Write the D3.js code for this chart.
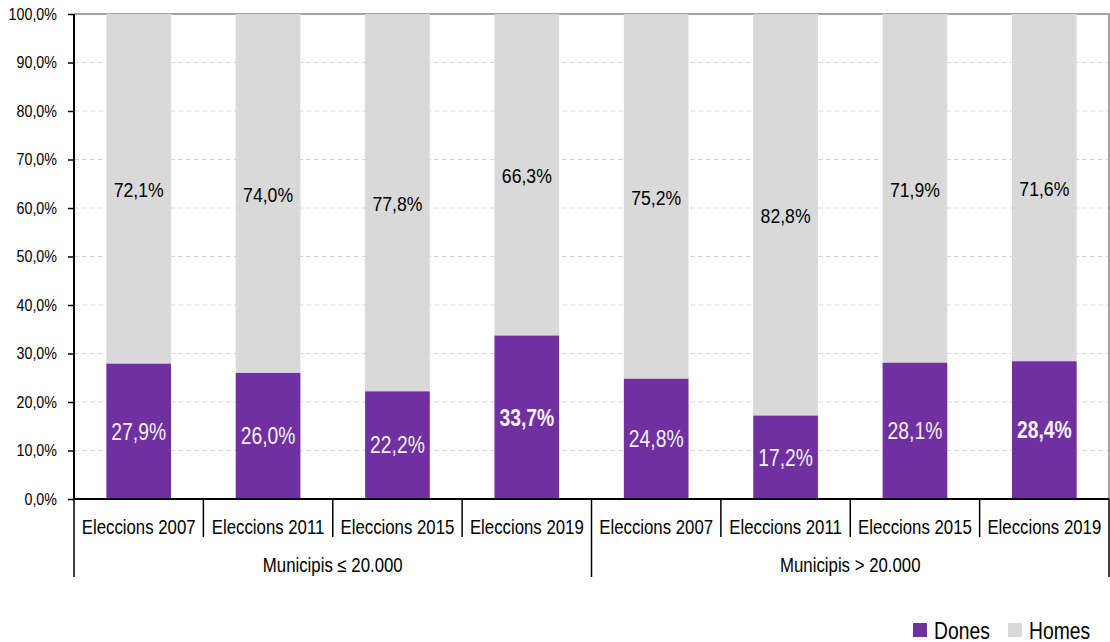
<!DOCTYPE html>
<html>
<head>
<meta charset="utf-8">
<title>Dones i homes</title>
<style>
body { margin: 0; background: #fff; }
text { font-family: "Liberation Sans", Arial, sans-serif; }
.grid line { stroke: #d9d9d9; stroke-dasharray: 5,3; }
</style>
</head>
<body>
<script src="https://d3js.org/d3.v7.min.js"></script>
<script>
// data
var years = ["Eleccions 2007", "Eleccions 2011", "Eleccions 2015", "Eleccions 2019"];
var groups = ["Municipis \u2264 20.000", "Municipis > 20.000"];
var dones = [27.9, 26.0, 22.2, 33.7, 24.8, 17.2, 28.1, 28.4];
var homes = [72.1, 74.0, 77.8, 66.3, 75.2, 82.8, 71.9, 71.6];
var yTicks = [0, 10, 20, 30, 40, 50, 60, 70, 80, 90, 100];
var boldLabels = [3, 7]; // 2019 labels drawn in bold

var width = 1110, height = 642;
var plotLeft = 74, plotRight = 1109, plotTop = 14, plotBottom = 499;
var narrow = 0.84; // squeeze text to look like Arial Narrow

var svg = d3.select("body").append("svg")
    .attr("width", width)
    .attr("height", height);

var rows = [];
groups.forEach(function(g, gi) {
  years.forEach(function(yr, yi) {
    var i = gi * years.length + yi;
    rows.push({ id: i, group: g, year: yr, dones: dones[i], homes: homes[i] });
  });
});

var x = d3.scaleBand()
    .domain(rows.map(d => d.id))
    .range([plotLeft, plotRight])
    .paddingInner(0.5)
    .paddingOuter(0.25);

var y = d3.scaleLinear().domain([0, 100]).range([plotBottom, plotTop]);

var fmt = v => d3.format(".1f")(v).replace(".", ",") + "%";

// places a squeezed text at (px, py)
function place(px, py) {
  return "translate(" + px + "," + py + ") scale(" + narrow + ",1)";
}

// gridlines
svg.append("g").attr("class", "grid")
  .selectAll("line").data(yTicks.filter(t => t > 0 && t < 100)).enter()
  .append("line")
    .attr("x1", plotLeft).attr("x2", plotRight)
    .attr("y1", d => y(d)).attr("y2", d => y(d));

// plot border top + right
svg.append("path")
    .attr("d", "M" + plotLeft + "," + y(100) + "H" + plotRight + "V" + plotBottom)
    .attr("fill", "none")
    .attr("stroke", "#868686")
    .attr("stroke-width", 1.5);

// bars
var bar = svg.append("g").selectAll("g").data(rows).enter().append("g");

bar.append("rect")
    .attr("x", d => x(d.id))
    .attr("width", x.bandwidth())
    .attr("y", d => y(d.dones + d.homes))
    .attr("height", d => y(d.dones) - y(d.dones + d.homes))
    .attr("fill", "#d9d9d9");

bar.append("rect")
    .attr("x", d => x(d.id))
    .attr("width", x.bandwidth())
    .attr("y", d => y(d.dones))
    .attr("height", d => y(0) - y(d.dones))
    .attr("fill", "#7030a0");

bar.append("text")
    .attr("transform", d => place(x(d.id) + x.bandwidth() / 2, y(d.dones + d.homes / 2) + 1))
    .attr("dy", "0.36em")
    .attr("text-anchor", "middle")
    .attr("font-size", 21)
    .attr("fill", "#000")
    .text(d => fmt(d.homes));

bar.append("text")
    .attr("transform", d => place(x(d.id) + x.bandwidth() / 2, y(d.dones / 2)))
    .attr("dy", "0.36em")
    .attr("text-anchor", "middle")
    .attr("font-size", 23)
    .attr("font-weight", d => boldLabels.indexOf(d.id) >= 0 ? "bold" : "normal")
    .attr("fill", "#f2f2f2")
    .text(d => fmt(d.dones));

// y axis
var yAxis = svg.append("g")
    .attr("transform", "translate(" + plotLeft + ",0)")
    .call(d3.axisLeft(y).tickValues(yTicks).tickSize(6).tickPadding(11).tickFormat(fmt));
yAxis.select(".domain").attr("stroke", "#000").attr("stroke-width", 2).attr("d", "M0," + plotTop + "V" + plotBottom);
yAxis.selectAll(".tick line").attr("stroke", "#000").attr("stroke-width", 1.5);
yAxis.selectAll(".tick text")
    .attr("font-size", 17).attr("fill", "#000")
    .style("font-family", "'Liberation Sans', Arial, sans-serif")
    .attr("x", 0)
    .attr("transform", place(-17, 0));

// x axis line
svg.append("line")
    .attr("x1", plotLeft).attr("x2", plotRight)
    .attr("y1", plotBottom).attr("y2", plotBottom)
    .attr("stroke", "#000").attr("stroke-width", 2);

// category separators
var step = x.step();
var seps = d3.range(rows.length + 1).map(i => plotLeft + i * step);
svg.append("g").selectAll("line").data(seps).enter().append("line")
    .attr("x1", d => d).attr("x2", d => d)
    .attr("y1", plotBottom)
    .attr("y2", (d, i) => i % years.length === 0 ? 577 : 537)
    .attr("stroke", "#000").attr("stroke-width", 1.5);

// category labels
svg.append("g").selectAll("text").data(rows).enter().append("text")
    .attr("transform", d => place(x(d.id) + x.bandwidth() / 2, 527))
    .attr("dy", "0.36em")
    .attr("text-anchor", "middle")
    .attr("font-size", 20)
    .text(d => d.year);

// group labels
svg.append("g").selectAll("text").data(groups).enter().append("text")
    .attr("transform", (d, i) => place(plotLeft + (i + 0.5) * step * years.length, 565))
    .attr("dy", "0.36em")
    .attr("text-anchor", "middle")
    .attr("font-size", 20)
    .text(d => d);

// legend
var legend = [{ name: "Dones", color: "#7030a0", x: 913 }, { name: "Homes", color: "#d9d9d9", x: 1008 }];
var lg = svg.append("g").selectAll("g").data(legend).enter().append("g");
lg.append("rect")
    .attr("x", d => d.x).attr("y", 623)
    .attr("width", 14).attr("height", 14)
    .attr("fill", d => d.color);
lg.append("text")
    .attr("transform", d => place(d.x + 21, 639))
    .attr("font-size", 23)
    .text(d => d.name);
</script>
</body>
</html>
